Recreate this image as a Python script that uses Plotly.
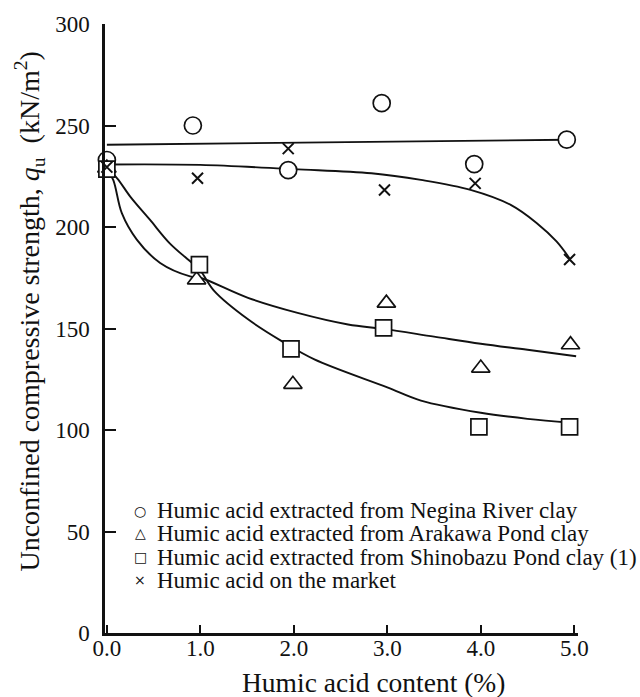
import plotly.graph_objects as go

# ---------------- data ----------------
# measured points (humic acid content %, unconfined compressive strength kN/m2)
negina_x = [0.0, 0.92, 1.94, 2.94, 3.93, 4.92]
negina_y = [233, 250, 228, 261, 231, 243]

arakawa_x = [0.0, 0.96, 1.99, 2.99, 4.0, 4.96]
arakawa_y = [229, 174, 122.5, 162.5, 130.5, 142]

shinobazu_x = [0.0, 0.99, 1.97, 2.96, 3.98, 4.95]
shinobazu_y = [228.5, 181.5, 140, 150.3, 101.5, 101.5]

market_x = [0.0, 0.97, 1.94, 2.97, 3.94, 4.95]
market_y = [229.5, 224, 238.6, 218.2, 221.5, 184]

# fitted curves
fit_flat_x = [0.0, 4.92]
fit_flat_y = [240.5, 243]

fit_market_x = [0.0, 1.0, 2.0, 2.83, 3.36, 3.89, 4.32, 4.6, 4.81, 4.95]
fit_market_y = [230.8, 230.6, 228.5, 226.5, 223.2, 218.3, 210.9, 201.9, 192.9, 184.5]

fit_arakawa_x = [0.0, 0.07, 0.16, 0.32, 0.57, 0.89, 1.0, 1.51, 2.04, 2.58, 2.96, 3.5, 4.0, 4.5, 5.02]
fit_arakawa_y = [229, 223, 206.8, 193.8, 182.3, 175.7, 175, 165.1, 157.7, 152, 149.8, 146, 142.5, 139.5, 136.3]

fit_shinobazu_x = [0.0, 0.11, 0.25, 0.46, 0.67, 0.91, 1.0, 1.15, 1.51, 1.87, 2.22, 3.0, 3.36, 4.0, 4.5, 4.96]
fit_shinobazu_y = [229, 224, 215, 203.6, 192.1, 182.3, 178.5, 168.4, 154.5, 143.8, 134.8, 121, 114.5, 108.5, 105.5, 103.6]

x_ticks = [0.0, 1.0, 2.0, 3.0, 4.0, 5.0]
x_tick_labels = ["0.0", "1.0", "2.0", "3.0", "4.0", "5.0"]
y_ticks = [0, 50, 100, 150, 200, 250, 300]

legend_labels = [
    "Humic acid extracted from Negina River clay",
    "Humic acid extracted from Arakawa Pond clay",
    "Humic acid extracted from Shinobazu Pond clay (1)",
    "Humic acid on the market",
]
legend_symbols = ["○", "△", "□", "×"]

# ---------------- figure ----------------
INK = "#111111"
SERIF = "Liberation Serif"

fig = go.Figure()

for fx, fy in [(fit_flat_x, fit_flat_y), (fit_market_x, fit_market_y),
               (fit_arakawa_x, fit_arakawa_y), (fit_shinobazu_x, fit_shinobazu_y)]:
    fig.add_trace(go.Scatter(x=fx, y=fy, mode="lines",
                             line=dict(color=INK, width=1.9, shape="spline", smoothing=1.0),
                             showlegend=False, hoverinfo="skip"))

marker_sets = [
    (negina_x, negina_y, "circle", 17, 1.7),
    (arakawa_x, arakawa_y, "triangle-up", 16, 1.7),
    (shinobazu_x, shinobazu_y, "square", 16, 1.7),
    (market_x, market_y, "x-thin", 11, 2.0),
]
for mx, my, sym, size, lw in marker_sets:
    fig.add_trace(go.Scatter(
        x=mx, y=my, mode="markers", cliponaxis=False, showlegend=False,
        marker=dict(symbol=sym, size=size, color="white", line=dict(color=INK, width=lw)),
    ))

annotations = []
# legend drawn as text rows
row_y = [0.201, 0.1634, 0.1247, 0.0866]
for sym, lab, yy in zip(legend_symbols, legend_labels, row_y):
    annotations.append(dict(xref="paper", yref="paper", x=0.074, y=yy, text=sym, showarrow=False,
                            xanchor="center", yanchor="middle",
                            font=dict(family="DejaVu Sans", size=14, color=INK)))
    annotations.append(dict(xref="paper", yref="paper", x=0.1057, y=yy, text=lab, showarrow=False,
                            xanchor="left", yanchor="middle",
                            font=dict(family=SERIF, size=23, color=INK)))

# axis titles
annotations.append(dict(xref="paper", yref="paper", x=-0.1586, y=0.5278, textangle=-90,
                        text="Unconfined compressive strength, <i>q</i><sub>u</sub>  (kN/m<sup>2</sup>)",
                        showarrow=False, xanchor="center", yanchor="middle",
                        font=dict(family=SERIF, size=28, color=INK)))
annotations.append(dict(xref="paper", yref="paper", x=0.5677, y=-0.0817,
                        text="Humic acid content (%)", showarrow=False, xanchor="center", yanchor="middle",
                        font=dict(family=SERIF, size=27.5, color=INK)))

fig.update_layout(
    width=640, height=697,
    margin=dict(l=105, r=62, t=21, b=64),
    paper_bgcolor="white", plot_bgcolor="white",
    font=dict(family=SERIF, color=INK),
    annotations=annotations,
    showlegend=False,
)

fig.update_xaxes(
    range=[-0.02, 5.04], showgrid=False, zeroline=False,
    showline=True, linecolor=INK, linewidth=2.5,
    ticks="inside", ticklen=8, tickwidth=1.5, tickcolor=INK,
    tickvals=x_ticks, ticktext=x_tick_labels,
    tickfont=dict(family=SERIF, size=23, color=INK),
    ticklabelstandoff=-7,
)
fig.update_yaxes(
    range=[0, 300], showgrid=False, zeroline=False,
    showline=True, linecolor=INK, linewidth=2.5,
    ticks="inside", ticklen=11, tickwidth=1.5, tickcolor=INK,
    tickvals=y_ticks, ticktext=[str(v) for v in y_ticks],
    tickfont=dict(family=SERIF, size=23, color=INK),
    ticklabelstandoff=8,
)

fig.write_html("out.html")
